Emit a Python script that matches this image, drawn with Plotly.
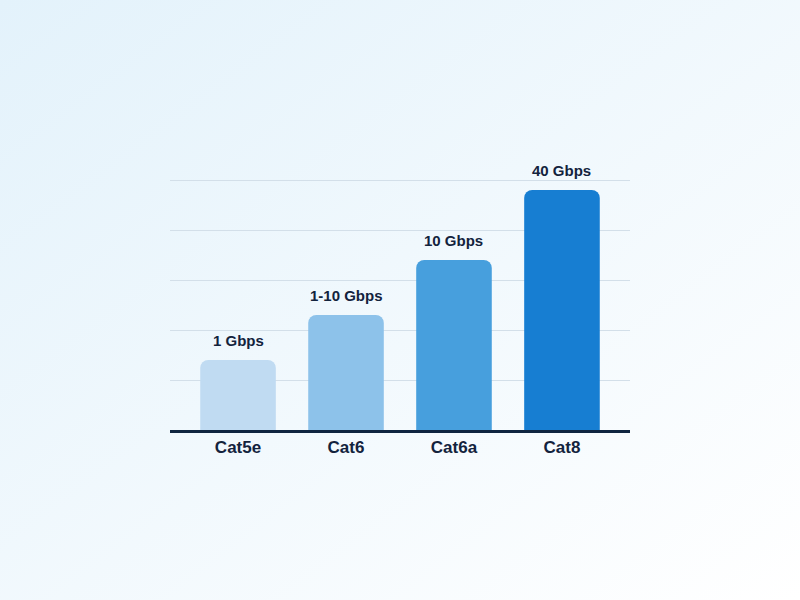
import base64
import plotly.graph_objects as go

# cable categories and their relative bar heights (grid units)
categories = ["Cat5e", "Cat6", "Cat6a", "Cat8"]
heights = [1.4, 2.3, 3.4, 4.8]
speed_labels = ["1 Gbps", "1-10 Gbps", "10 Gbps", "40 Gbps"]
bar_colors = ["#c0dbf2", "#8dc2ea", "#479fdd", "#177ed2"]

TEXT = "#13233d"
FONT = "Liberation Sans, Arial, sans-serif"

# soft diagonal gradient behind everything
svg = (
    '<svg xmlns="http://www.w3.org/2000/svg" width="800" height="600">'
    '<defs><linearGradient id="g" x1="0" y1="0" x2="1" y2="1">'
    '<stop offset="0" stop-color="#e3f2fb"/><stop offset="1" stop-color="#ffffff"/>'
    '</linearGradient></defs><rect width="800" height="600" fill="url(#g)"/></svg>'
)
bg_src = "data:image/svg+xml;base64," + base64.b64encode(svg.encode()).decode()

fig = go.Figure()
fig.add_trace(go.Bar(
    x=categories, y=heights, width=0.7,
    marker=dict(color=bar_colors, line=dict(width=0)),
    hoverinfo="skip",
))

for cat, h, lab in zip(categories, heights, speed_labels):
    fig.add_annotation(x=cat, y=h, text="<b>%s</b>" % lab, showarrow=False,
                       yanchor="bottom", yshift=9,
                       font=dict(size=15, color=TEXT, family=FONT))

# plot area: 460 x 260 px, bottom edge at y=430
fig.update_layout(
    width=800, height=600,
    margin=dict(l=170, r=170, t=170, b=170),
    paper_bgcolor="rgba(0,0,0,0)",
    plot_bgcolor="rgba(0,0,0,0)",
    showlegend=False,
    barcornerradius=8,
    images=[dict(source=bg_src, xref="paper", yref="paper",
                 x=-170 / 460, y=1 + 170 / 260, sizex=800 / 460, sizey=600 / 260,
                 sizing="stretch", layer="below", xanchor="left", yanchor="top")],
    xaxis=dict(range=[-0.63, 3.63], showgrid=False, showline=True, linewidth=3,
               linecolor="#0f2540", ticks="", ticklabelstandoff=0,
               tickfont=dict(size=17, color=TEXT, family=FONT, weight="bold"),
               fixedrange=True),
    yaxis=dict(range=[0, 5.2], dtick=1, showgrid=True, gridcolor="#d3dfe9", gridwidth=1,
               showticklabels=False, zeroline=False, fixedrange=True),
    font=dict(family=FONT, color=TEXT),
)

fig.write_html("out.html", config={"displayModeBar": False},
               post_script="document.body.style.margin='0';")
